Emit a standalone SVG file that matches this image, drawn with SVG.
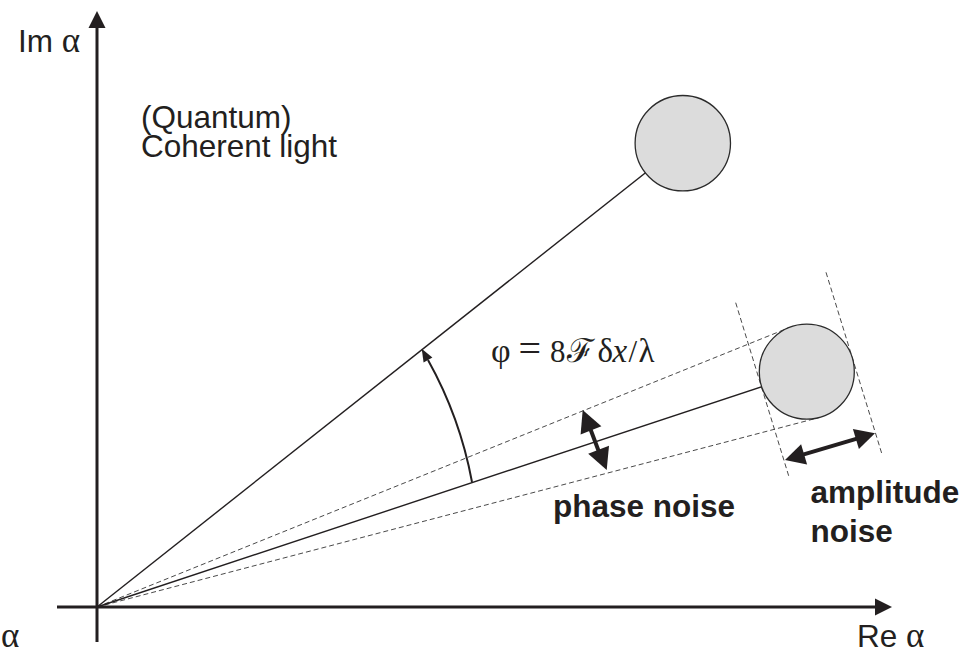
<svg xmlns="http://www.w3.org/2000/svg" width="968" height="655" viewBox="0 0 968 655">
<style>
.ax{stroke:#231f20;stroke-width:3;fill:none}
.ray{stroke:#231f20;stroke-width:1.4;fill:none}
.dash{stroke:#4a4a4a;stroke-width:1;fill:none;stroke-dasharray:5 3}
.thick{stroke:#231f20;stroke-width:4;fill:none}
.head{fill:#231f20;stroke:none}
.blob{fill:#dcdcdc;stroke:#2b2b2b;stroke-width:1.3}
.t{font-family:"Liberation Sans",Arial,sans-serif;font-size:31.5px;fill:#231f20}
.b{font-family:"Liberation Sans",Arial,sans-serif;font-size:31.5px;font-weight:bold;fill:#231f20}
.g{font-family:"Liberation Serif","Times New Roman",serif;font-size:35px}
.f{font-family:"Liberation Serif","DejaVu Serif",serif;font-size:31px;fill:#231f20}
</style>
<rect width="968" height="655" fill="#ffffff"/>
<g id="connectors">
  <line class="dash" x1="97" y1="607" x2="789.05" y2="327.67"/>
  <line class="dash" x1="97" y1="607" x2="818.87" y2="417.62"/>
  <line class="dash" x1="735.7" y1="302.7" x2="789.5" y2="478.5"/>
  <line class="dash" x1="826" y1="272.3" x2="881.7" y2="453.3"/>
  <line class="ray" x1="97" y1="607" x2="682.8" y2="143.2"/>
  <line class="ray" x1="97" y1="607" x2="806.8" y2="371.7"/>
  <line class="ax" x1="97" y1="26" x2="97" y2="642"/>
  <polygon class="head" points="97,11 88.5,28 105.5,28"/>
  <line class="ax" x1="57" y1="607" x2="877" y2="607"/>
  <polygon class="head" points="892,607 875,598.5 875,615.5"/>
  <path d="M 472 482 A 400 400 0 0 0 428 360" style="stroke:#231f20;stroke-width:2;fill:none"/>
  <polygon class="head" points="421.7,348.7 432.4,357.6 423.6,362.4"/>
  <line class="thick" x1="590" y1="428" x2="599" y2="452"/>
  <polygon class="head" points="582.7,410 601.4,426.3 580.6,434.5"/>
  <polygon class="head" points="606.7,470 609,445.7 588.2,453.7"/>
  <line class="thick" x1="803" y1="454.7" x2="857" y2="438.6"/>
  <polygon class="head" points="785,460 801.1,444.2 807.1,464.4"/>
  <polygon class="head" points="875,433.3 852.9,428.9 858.9,449.1"/>
</g>
<g id="coherent_state">
  <circle class="blob" cx="682.8" cy="143.2" r="47.7"/>
</g>
<g id="noisy_state">
  <circle class="blob" cx="806.8" cy="371.7" r="47.5"/>
</g>
<g id="labels">
  <text class="t" x="18" y="52">Im <tspan class="g">α</tspan></text>
  <text class="t" x="1" y="647"><tspan class="g">α</tspan></text>
  <text class="t" x="857" y="647">Re <tspan class="g">α</tspan></text>
  <text class="t" x="141" y="127.5">(Quantum)<tspan x="141" dy="29">Coherent light</tspan></text>
  <text class="f" y="361.5"><tspan x="491" font-size="34">φ</tspan><tspan x="518.5" font-size="40">=</tspan><tspan x="550">8</tspan><tspan x="566.5" font-size="33">ℱ</tspan><tspan x="597.5" font-size="33">δ</tspan><tspan x="612.5" font-style="italic" font-size="33">x</tspan><tspan x="628.5">/</tspan><tspan x="638.5" font-size="33">λ</tspan></text>
  <text class="b" x="553" y="516.5">phase noise</text>
  <text class="b" x="810.5" y="502.5">amplitude</text>
  <text class="b" x="810.5" y="541.5">noise</text>
</g>
</svg>
